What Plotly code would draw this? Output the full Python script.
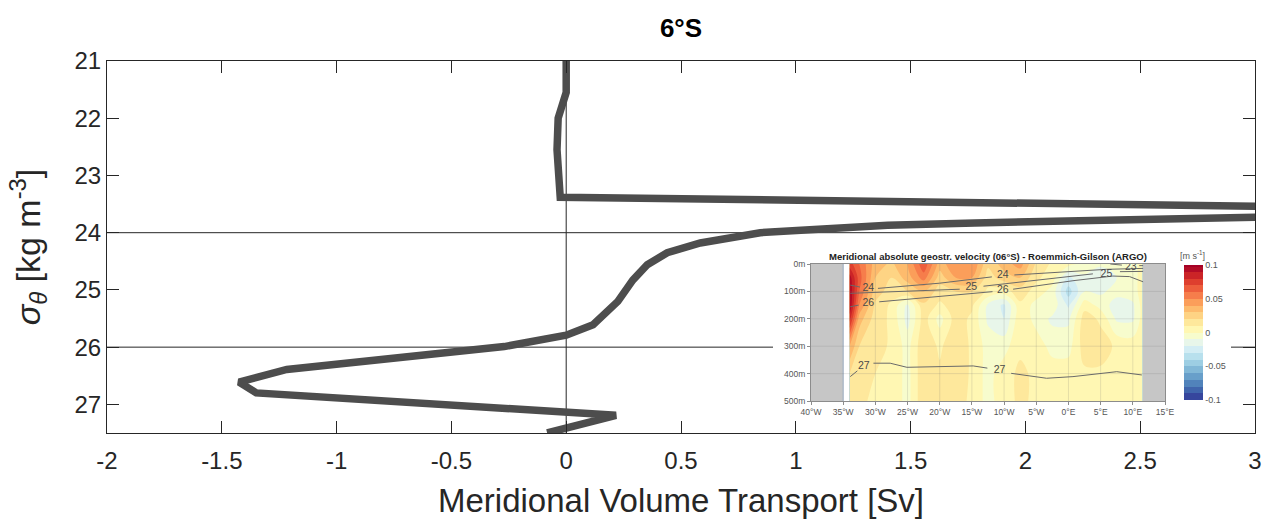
import plotly.graph_objects as go

# ---------------- main profile (6°S) ----------------
SIGMA = [21.0, 21.55, 22.0, 22.55, 23.38, 23.46, 23.52, 23.6, 23.73, 23.77, 23.83,
         23.87, 24.0, 24.18, 24.35, 24.56, 24.83, 25.2, 25.61, 25.79, 25.99, 26.39,
         26.61, 26.8, 27.19, 27.5]
TRANSPORT = [0.0, 0.0, -0.035, -0.04, -0.026, 1.4, 3.0, 4.2, 3.0, 2.33, 1.78,
             1.4, 0.845, 0.584, 0.44, 0.353, 0.29, 0.225, 0.117, 0.0, -0.27, -1.217,
             -1.425, -1.35, 0.217, -0.083]

X_TICKS = [-2, -1.5, -1, -0.5, 0, 0.5, 1, 1.5, 2, 2.5, 3]
X_TICK_LABELS = ["-2", "-1.5", "-1", "-0.5", "0", "0.5", "1", "1.5", "2", "2.5", "3"]
Y_TICKS = [21, 22, 23, 24, 25, 26, 27]
Y_TICK_LABELS = ["21", "22", "23", "24", "25", "26", "27"]
REF_X = [0]
REF_Y = [24, 26]

# ---------------- inset: meridional velocity section ----------------
LON = [-34, -32.5, -30, -27.5, -25, -22.5, -20, -17.5, -15, -12.5, -10, -7.5, -5,
       -2.5, 0, 2.5, 5, 7.5, 10, 11.5]
DEPTH = [0, 50, 100, 150, 200, 300, 400, 500]
VEL_0 = [0.075, 0.06, 0.035, 0.028, 0.04, 0.068, 0.035, 0.048, 0.05, 0.022, 0.035, 0.045, 0.018, 0.008, 0.004, -0.004, -0.008, -0.01, -0.004, 0.004]
VEL_50 = [0.095, 0.065, 0.03, 0.02, 0.035, 0.055, 0.025, 0.04, 0.04, 0.015, 0.025, 0.03, 0.012, 0.005, -0.022, -0.012, -0.018, -0.01, -0.004, 0.004]
VEL_100 = [0.1, 0.06, 0.025, 0.015, 0.02, 0.03, 0.015, 0.02, 0.02, 0.008, 0.006, 0.015, 0.006, -0.004, -0.035, -0.01, -0.012, -0.006, -0.004, 0.004]
VEL_150 = [0.1, 0.05, 0.018, 0.008, -0.012, 0.018, 0.008, 0.015, 0.012, -0.012, -0.022, 0.008, -0.004, -0.004, -0.022, 0.006, -0.004, -0.015, -0.012, 0.004]
VEL_200 = [0.085, 0.035, 0.015, 0.008, -0.014, 0.015, -0.004, 0.015, 0.008, -0.012, -0.02, 0.008, -0.004, -0.012, -0.012, 0.015, 0.008, -0.012, -0.012, 0.004]
VEL_300 = [0.04, 0.02, 0.015, 0.008, -0.004, 0.018, 0.008, 0.018, 0.008, -0.004, -0.004, 0.008, 0.006, -0.004, -0.004, 0.015, 0.015, 0.008, 0.006, 0.006]
VEL_400 = [0.02, 0.015, 0.01, 0.008, -0.004, 0.018, 0.012, 0.018, 0.008, -0.004, 0.006, 0.012, 0.008, 0.006, 0.006, 0.008, 0.008, 0.004, 0.006, 0.006]
VEL_500 = [0.015, 0.012, 0.008, 0.008, -0.004, 0.018, 0.012, 0.014, 0.008, -0.004, 0.006, 0.012, 0.008, 0.006, 0.006, 0.008, 0.008, 0.004, 0.006, 0.006]
VEL = [VEL_0, VEL_50, VEL_100, VEL_150, VEL_200, VEL_300, VEL_400, VEL_500]

LON_TICKS = [-40, -35, -30, -25, -20, -15, -10, -5, 0, 5, 10, 15]
LON_TICK_LABELS = ["40°W", "35°W", "30°W", "25°W", "20°W", "15°W", "10°W", "5°W",
                   "0°E", "5°E", "10°E", "15°E"]
DEPTH_TICKS = [0, 100, 200, 300, 400, 500]
DEPTH_TICK_LABELS = ["0m", "100m", "200m", "300m", "400m", "500m"]
CBAR_TICKS = [-0.1, -0.05, 0, 0.05, 0.1]
CBAR_TICK_LABELS = ["-0.1", "-0.05", "0", "0.05", "0.1"]
LAND_WEST = [-40, -35]
LAND_EAST = [11.5, 15]

# isopycnals (sigma-theta) in the inset
ISO23_LON = [6.5, 8.3, None, 11.0, 11.6]
ISO23_DEPTH = [0, 4, None, 6, 6]
ISO24_LON = [-33.9, -32.4, None, -29.6, -20.0, -11.9, None, -8.4, -2.0, 5.9, 11.6]
ISO24_DEPTH = [77, 84, None, 89, 70, 47, None, 40, 30, 19.5, 16]
ISO25_LON = [-33.9, -25, -16.9, None, -13.2, -5, 3.8, None, 8.0, 11.6]
ISO25_DEPTH = [107, 100, 92, None, 81, 58, 36, None, 28, 27]
ISO26_LON = [-33.9, -32.6, None, -29.4, -20, -11.8, None, -8.6, 0.7, 6.9, 9.5, 11.6]
ISO26_DEPTH = [156, 150, None, 138, 118, 101, None, 92, 61, 44, 46, 65]
ISO27_LON = [-33.9, -32.8, None, -30.3, -27.7, -25.1, -14.8, -12.6, None, -8.9, -3.4, 0.7, 7.5, 11.4]
ISO27_DEPTH = [411, 390, None, 362, 362, 377, 372, 380, None, 399, 417, 411, 393, 405]
ISO_LABEL_TEXT = ["23", "24", "24", "25", "25", "26", "26", "27", "27"]
ISO_LABEL_LON = [9.7, -31.1, -10.2, -15.1, 5.9, -31.1, -10.2, -31.8, -10.7]
ISO_LABEL_DEPTH = [12, 89, 43, 86, 36, 144, 96, 372, 390]

# ---------------- layout geometry (pixels) ----------------
W, H = 1262, 521
PL, PR, PT, PB = 107, 1255, 61, 433


def fx(px):
    return (px - PL) / (PR - PL)


def fy(py):
    return (PB - py) / (PB - PT)


FONT = "Liberation Sans, Arial, Helvetica, sans-serif"
AXC = "#262626"

fig = go.Figure()

# main profile
fig.add_trace(go.Scatter(x=TRANSPORT, y=SIGMA, mode="lines",
                         line=dict(color="#4d4d4d", width=7.5),
                         xaxis="x", yaxis="y", hoverinfo="skip", showlegend=False))

# white backing for the inset (its own subplot background)
fig.add_trace(go.Scatter(x=[], y=[], xaxis="x2", yaxis="y2", showlegend=False))

# velocity section
fig.add_trace(go.Contour(
    x=LON, y=DEPTH, z=VEL, xaxis="x3", yaxis="y3",
    colorscale="RdYlBu_r", zmin=-0.1, zmax=0.1, autocontour=False,
    contours=dict(start=-0.1, end=0.1, size=0.01, coloring="fill", showlines=False),
    line=dict(width=0), hoverinfo="skip",
    colorbar=dict(x=fx(1184), xanchor="left", y=fy(332.5), yanchor="middle",
                  lenmode="pixels", len=135, thicknessmode="pixels", thickness=19,
                  xpad=0, ypad=0, outlinewidth=0, ticks="",
                  tickvals=CBAR_TICKS, ticktext=CBAR_TICK_LABELS,
                  tickfont=dict(family=FONT, size=9, color="#555555")),
))

for lo, de in [(ISO23_LON, ISO23_DEPTH), (ISO24_LON, ISO24_DEPTH), (ISO25_LON, ISO25_DEPTH),
               (ISO26_LON, ISO26_DEPTH), (ISO27_LON, ISO27_DEPTH)]:
    fig.add_trace(go.Scatter(x=lo, y=de, mode="lines", xaxis="x3", yaxis="y3",
                             line=dict(color="#6a6a6a", width=1), connectgaps=False,
                             hoverinfo="skip", showlegend=False))

fig.add_trace(go.Scatter(x=ISO_LABEL_LON, y=ISO_LABEL_DEPTH, text=ISO_LABEL_TEXT,
                         mode="text", xaxis="x3", yaxis="y3",
                         textfont=dict(family=FONT, size=10.5, color="#4a4a4a"),
                         hoverinfo="skip", showlegend=False))

shapes = []
for v in REF_X:
    shapes.append(dict(type="line", xref="x", yref="y domain", x0=v, x1=v, y0=0, y1=1,
                       line=dict(color=AXC, width=1), layer="below"))
for v in REF_Y:
    shapes.append(dict(type="line", xref="x domain", yref="y", x0=0, x1=1, y0=v, y1=v,
                       line=dict(color=AXC, width=1), layer="below"))
for a, b in [LAND_WEST, LAND_EAST]:
    shapes.append(dict(type="rect", xref="x3", yref="y3", x0=a, x1=b, y0=DEPTH[0], y1=DEPTH[-1],
                       fillcolor="#c6c6c6", line=dict(width=0), layer="below"))
shapes.append(dict(type="line", xref="x3", yref="y3", x0=LAND_WEST[1], x1=LAND_WEST[1],
                   y0=DEPTH[0], y1=DEPTH[-1], line=dict(color="#a9bdd4", width=1), layer="below"))
shapes.append(dict(type="line", xref="x3", yref="y3", x0=LAND_EAST[0], x1=LAND_EAST[0],
                   y0=DEPTH[0], y1=DEPTH[-1], line=dict(color="#a9bdd4", width=1), layer="below"))
for v in LON_TICKS[1:-1]:
    shapes.append(dict(type="line", xref="x3", yref="y3", x0=v, x1=v, y0=DEPTH_TICKS[0],
                       y1=DEPTH_TICKS[-1], line=dict(color="rgba(110,110,110,0.18)", width=1),
                       layer="above"))
for v in DEPTH_TICKS[1:-1]:
    shapes.append(dict(type="line", xref="x3", yref="y3", x0=LON_TICKS[0], x1=LON_TICKS[-1],
                       y0=v, y1=v, line=dict(color="rgba(110,110,110,0.18)", width=1),
                       layer="above"))

annotations = [
    dict(text="<b>Meridional absolute geostr. velocity (06°S) - Roemmich-Gilson (ARGO)</b>",
         xref="paper", yref="paper", x=fx(988), y=fy(256.5), xanchor="center", yanchor="middle",
         showarrow=False, font=dict(family=FONT, size=9.5, color="#222222")),
    dict(text="[m s<sup>-1</sup>]", xref="paper", yref="paper", x=fx(1192), y=fy(255),
         xanchor="center", yanchor="middle", showarrow=False,
         font=dict(family=FONT, size=9, color="#555555")),
]

main_axis = dict(showline=True, linecolor=AXC, linewidth=1, mirror="allticks",
                 ticks="inside", ticklen=12, tickcolor=AXC, tickwidth=1,
                 showgrid=False, zeroline=False,
                 tickfont=dict(family=FONT, size=24, color=AXC))

fig.update_layout(
    width=W, height=H,
    margin=dict(l=PL, r=W - PR, t=PT, b=H - PB, autoexpand=False),
    paper_bgcolor="white", plot_bgcolor="white",
    showlegend=False,
    title=dict(text="<b>6°S</b>", x=fx(681), xref="paper", xanchor="center",
               y=1 - 28 / H, yanchor="middle",
               font=dict(family=FONT, size=26, color="#000000")),
    xaxis=dict(main_axis, range=[X_TICKS[0], X_TICKS[-1]], tickvals=X_TICKS,
               ticktext=X_TICK_LABELS, domain=[0, 1], anchor="y", ticklabelstandoff=6,
               title=dict(text="Meridional Volume Transport [Sv]", standoff=16,
                          font=dict(family=FONT, size=33, color=AXC))),
    yaxis=dict(main_axis, range=[27.5, 21], tickvals=Y_TICKS, ticktext=Y_TICK_LABELS,
               domain=[0, 1], anchor="x",
               title=dict(text="<i>σ</i><sub><i>θ</i></sub> [kg m<sup>-3</sup>]", standoff=23,
                          font=dict(family=FONT, size=34, color=AXC))),
    xaxis2=dict(domain=[fx(773), fx(1231)], anchor="y2", visible=False, range=[0, 1]),
    yaxis2=dict(domain=[fy(420), fy(250)], anchor="x2", visible=False, range=[0, 1]),
    xaxis3=dict(domain=[fx(811), fx(1165)], anchor="y3", range=[LON_TICKS[0], LON_TICKS[-1]],
                tickvals=LON_TICKS, ticktext=LON_TICK_LABELS, showgrid=False, zeroline=False,
                showline=True, linecolor="#8c8c8c", linewidth=1, mirror=True,
                ticks="outside", ticklen=3, tickcolor="#8c8c8c",
                tickfont=dict(family=FONT, size=8.5, color="#555555")),
    yaxis3=dict(domain=[fy(401), fy(264)], anchor="x3", range=[DEPTH_TICKS[-1], DEPTH_TICKS[0]],
                tickvals=DEPTH_TICKS, ticktext=DEPTH_TICK_LABELS, showgrid=False, zeroline=False,
                showline=True, linecolor="#8c8c8c", linewidth=1, mirror=True,
                ticks="outside", ticklen=3, tickcolor="#8c8c8c",
                tickfont=dict(family=FONT, size=8.5, color="#555555")),
    shapes=shapes, annotations=annotations,
)

fig.write_html("out.html")
